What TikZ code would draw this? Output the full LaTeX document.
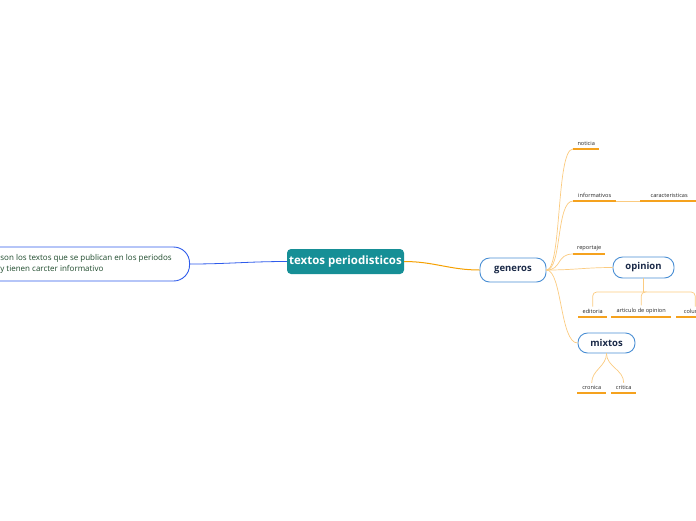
\documentclass[tikz,border=0pt]{standalone}
\usepackage{fontspec}
\setmainfont{Open Sans}
\usetikzlibrary{positioning}

\definecolor{tealroot}{HTML}{168F96}
\definecolor{topicblue}{HTML}{4A8FD4}
\definecolor{defblue}{HTML}{2F5CEB}
\definecolor{deftext}{HTML}{1E4A2C}
\definecolor{navytext}{HTML}{1B2A48}
\definecolor{leaforange}{HTML}{F5A21E}
\definecolor{branchorange}{HTML}{FBCB80}
\definecolor{mainorange}{HTML}{F5A000}

\begin{document}
\begin{tikzpicture}[
    x=1pt, y=-1pt,
    rootnode/.style={fill=tealroot, rounded corners=4pt, text=white, font=\fontsize{11.5}{13}\selectfont\bfseries, minimum width=117pt, minimum height=25pt, inner sep=1pt},
    topicnode/.style={draw=topicblue, line width=0.9pt, fill=white, rounded corners=9.5pt, text=navytext, font=\fontsize{9.5}{11}\selectfont\bfseries, inner sep=1pt},
    defnode/.style={draw=defblue, line width=0.9pt, fill=white, rounded corners=16pt, text=deftext, font=\fontsize{8}{10.5}\selectfont, align=left, inner xsep=1pt, minimum height=34pt},
    leafnode/.style={font=\fontsize{5.6}{6.5}\selectfont, text=black!85, anchor=south west, inner xsep=1pt, inner ysep=2.8pt},
    leafline/.style={draw=leaforange, line width=1.5pt},
    branch/.style={draw=branchorange, line width=0.7pt},
    mainline/.style={draw=mainorange, line width=1pt},
    defline/.style={draw=defblue, line width=0.8pt}
]
\useasboundingbox (0,0) rectangle (696,520);

% --- Central topic and definition ---
\node[rootnode] (root) at (345.5,261.5) {textos periodisticos};
\node[defnode, minimum width=230pt, anchor=east] (def) at (190,264)
  {\hspace*{23pt}son los textos que se publican en los periodos\\\hspace*{23pt}y tienen carcter informativo};

% --- Main topics ---
\node[topicnode, minimum width=66pt, minimum height=24pt] (generos) at (513,270) {generos};
\node[topicnode, minimum width=61pt, minimum height=21pt] (opinion) at (643.5,267.5) {opinion};
\node[topicnode, minimum width=57pt, minimum height=20pt] (mixtos) at (606.5,343) {mixtos};

% --- Leaves ---
\node[leafnode, minimum width=26pt] (noticia) at (573,149) {noticia};
\node[leafnode, minimum width=43pt] (informativos) at (573,201) {informativos};
\node[leafnode, minimum width=58pt] (caract) at (640,201) {caracteristicas};
\node[leafnode, minimum width=32pt] (reportaje) at (573,254) {reportaje};
\node[leafnode, minimum width=29pt] (editoria) at (578,317) {editoria};
\node[leafnode, minimum width=60pt] (articulo) at (611,317) {articulo de opinion};
\node[leafnode, minimum width=38pt] (columna) at (676,317) {columna};
\node[leafnode, minimum width=29pt] (cronica) at (577,393) {cronica};
\node[leafnode, minimum width=25pt] (critica) at (611,393) {critica};

\foreach \leaf in {noticia,informativos,caract,reportaje,editoria,articulo,columna,cronica,critica}
  \draw[leafline] (\leaf.south west) -- (\leaf.south east);

% --- Connectors ---
\draw[defline] (def.east) to[out=0,in=180] (root.west);
\draw[mainline] (root.east) to[out=0,in=180] (generos.west);

\draw[branch] (generos.east) .. controls (562,270) and (556,149) .. (noticia.south west);
\draw[branch] (generos.east) .. controls (562,270) and (556,201) .. (informativos.south west);
\draw[branch] (generos.east) .. controls (562,270) and (556,254) .. (reportaje.south west);
\draw[branch] (generos.east) .. controls (575,270) and (585,267.5) .. (opinion.west);
\draw[branch] (generos.east) .. controls (562,270) and (560,343) .. (mixtos.west);
\draw[branch] (informativos.south east) -- (caract.south west);

\coordinate (opfork) at (643.5,292);
\draw[branch] (opinion.south) -- (opfork);
\foreach \leaf in {editoria,articulo,columna}
  \draw[branch, rounded corners=4pt] (opfork) -| (\leaf.north);

\draw[branch] (mixtos.south) to[out=-90,in=90] (cronica.north);
\draw[branch] (mixtos.south) to[out=-90,in=90] (critica.north);

\end{tikzpicture}
\end{document}
